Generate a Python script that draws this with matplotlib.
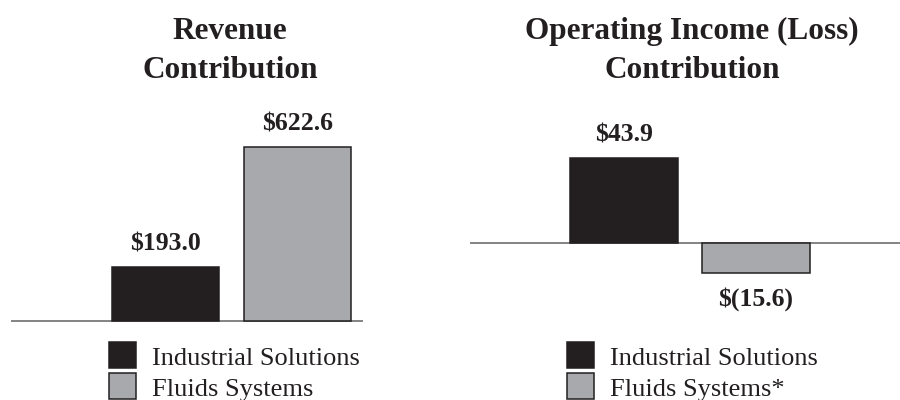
import matplotlib
matplotlib.use("Agg")
import matplotlib.pyplot as plt
from matplotlib.patches import Rectangle
from matplotlib.transforms import Affine2D

# data
segments = ["Industrial Solutions", "Fluids Systems"]
segments_income = ["Industrial Solutions", "Fluids Systems*"]
revenue = [193.0, 622.6]
revenue_labels = ["$193.0", "$622.6"]
op_income = [43.9, -15.6]
op_income_labels = ["$43.9", "$(15.6)"]
titles = [["Revenue", "Contribution"], ["Operating Income (Loss)", "Contribution"]]

plt.rcParams['font.family'] = ['Liberation Serif', 'DejaVu Serif']

W, H = 900, 400
fig = plt.figure(figsize=(9, 4), dpi=100)
# pixel coords, origin top-left
tpx = Affine2D().scale(1 / W, -1 / H).translate(0, 1) + fig.transFigure

colors = ['#231f20', '#a7a9ac']
edges = ['#231f20', '#231f20']
line_col = '#6d6e71'


def panel(x0, x1, base, scale, c0, c1, bar_w, values, labels, names, title, title_x):
    top, bottom = 100, 335
    ax = fig.add_axes([x0 / W, 1 - bottom / H, (x1 - x0) / W, (bottom - top) / H])
    unit = c1 - c0
    left = -(c0 - x0) / unit
    ax.set_xlim(left, left + (x1 - x0) / unit)
    ax.set_ylim(-(bottom - base) / scale, (base - top) / scale)
    ax.axis('off')
    ax.axhline(0, color=line_col, lw=1.2, zorder=1)
    bars = ax.bar(range(len(values)), values, width=bar_w / unit, color=colors,
                  edgecolor=edges, linewidth=1.1, zorder=2)
    for b, v, lab in zip(bars, values, labels):
        xc = b.get_x() + b.get_width() / 2
        if v >= 0:
            ax.annotate(lab, (xc, v), xytext=(0, 11.5), textcoords='offset points',
                        ha='center', va='baseline', fontsize=18.5, fontweight='bold',
                        color='#231f20')
        else:
            ax.annotate(lab, (xc, v), xytext=(0, -10), textcoords='offset points',
                        ha='center', va='top', fontsize=18.5, fontweight='bold',
                        color='#231f20')
    # legend
    sq_x = c0 - bar_w / 2 - 3
    for i, name in enumerate(names):
        y = 342 + i * 31
        fig.add_artist(Rectangle((sq_x, y), 27, 26, transform=tpx, facecolor=colors[i],
                                 edgecolor='#231f20', linewidth=1.1))
        fig.text(sq_x + 43, y + 23, name, transform=tpx, fontsize=19,
                 color='#231f20', va='baseline', ha='left')
    # title
    for j, line in enumerate(title):
        fig.text(title_x, 39 + j * 39, line, transform=tpx, fontsize=22.5,
                 fontweight='bold', ha='center', va='baseline', color='#231f20')


panel(11, 363, 321, 0.28, 165.5, 297.5, 107, revenue, revenue_labels,
      segments, titles[0], 230)
panel(470, 900, 243, 1.94, 624, 755.5, 108, op_income, op_income_labels,
      segments_income, titles[1], 692)

fig.savefig('out.png', dpi=100)
